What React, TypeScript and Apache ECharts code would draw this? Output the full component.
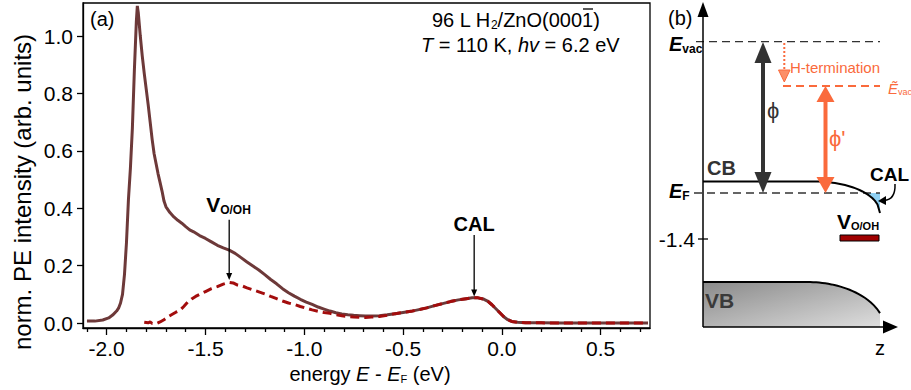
import React, { useEffect, useRef } from "react";
import * as echarts from "echarts";

const FONT = "'Liberation Sans', Arial, Helvetica, sans-serif";

// ---- panel (a) data: solid curve (clean surface) ----
const solidEnergy = [
  -2.1, -2.06, -2.02, -1.99, -1.97, -1.95, -1.94, -1.93, -1.92, -1.91, -1.9, -1.89, -1.88, -1.87, -1.86, -1.85, -1.845,
  -1.84, -1.83, -1.82, -1.81, -1.8, -1.79, -1.78, -1.77, -1.76, -1.75, -1.74, -1.73, -1.72, -1.71, -1.7, -1.68, -1.66,
  -1.64, -1.62, -1.6, -1.58, -1.56, -1.53, -1.5, -1.47, -1.44, -1.41, -1.38, -1.35, -1.32, -1.29, -1.26, -1.23, -1.2,
  -1.17, -1.14, -1.11, -1.08, -1.05, -1.02, -0.99, -0.96, -0.93, -0.9, -0.87, -0.84, -0.81, -0.78, -0.75, -0.72, -0.69,
  -0.66, -0.62, -0.58, -0.54, -0.5, -0.46, -0.42, -0.38, -0.34, -0.3, -0.26, -0.22, -0.18, -0.15, -0.12, -0.09, -0.07,
  -0.05, -0.03, -0.01, 0.01, 0.03, 0.05, 0.08, 0.12, 0.2, 0.3, 0.4, 0.5, 0.6, 0.7, 0.74,
];
const solidIntensity = [
  0.007, 0.007, 0.011, 0.018, 0.028, 0.042, 0.052, 0.07, 0.1, 0.17, 0.28, 0.43, 0.54, 0.68, 0.88, 1.05, 1.105,
  1.08, 1.0, 0.93, 0.87, 0.815, 0.76, 0.7, 0.64, 0.59, 0.555, 0.52, 0.49, 0.46, 0.425, 0.405, 0.385, 0.37,
  0.358, 0.348, 0.336, 0.325, 0.318, 0.305, 0.295, 0.283, 0.271, 0.262, 0.254, 0.243, 0.228, 0.213, 0.199, 0.185, 0.169,
  0.152, 0.137, 0.12, 0.106, 0.094, 0.083, 0.073, 0.065, 0.056, 0.049, 0.042, 0.036, 0.032, 0.029, 0.027, 0.026, 0.025,
  0.025, 0.026, 0.029, 0.033, 0.037, 0.041, 0.047, 0.053, 0.061, 0.068, 0.075, 0.081, 0.085, 0.088, 0.088, 0.083, 0.076,
  0.064, 0.05, 0.036, 0.022, 0.012, 0.006, 0.003, 0.001, 0.001, 0.0, 0.0, 0.0, 0.0, 0.0, 0.0,
];

// ---- panel (a) data: dashed curve (H2 dosed) ----
const dashedEnergy = [
  -1.81, -1.79, -1.78, -1.77, -1.75, -1.73, -1.71, -1.69, -1.67, -1.65, -1.63, -1.61, -1.59, -1.57, -1.55, -1.53, -1.5,
  -1.47, -1.44, -1.41, -1.38, -1.36, -1.34, -1.32, -1.29, -1.26, -1.23, -1.2, -1.17, -1.14, -1.11, -1.08, -1.05, -1.02,
  -0.99, -0.96, -0.93, -0.9, -0.87, -0.84, -0.81, -0.78, -0.75, -0.72, -0.69, -0.66, -0.62, -0.58, -0.54, -0.5, -0.46,
  -0.42, -0.38, -0.34, -0.3, -0.26, -0.22, -0.18, -0.15, -0.12, -0.09, -0.07, -0.05, -0.03, -0.01, 0.01, 0.03, 0.05,
  0.08, 0.12, 0.2, 0.3, 0.4, 0.5, 0.6, 0.7, 0.74,
];
const dashedIntensity = [
  0.003, 0.001, 0.004, -0.001, -0.002, 0.004, 0.012, 0.022, 0.03, 0.038, 0.044, 0.058, 0.073, 0.084, 0.093, 0.1, 0.11,
  0.12, 0.127, 0.136, 0.142, 0.14, 0.133, 0.131, 0.123, 0.116, 0.109, 0.102, 0.093, 0.085, 0.077, 0.07, 0.065, 0.058,
  0.052, 0.046, 0.041, 0.037, 0.034, 0.029, 0.026, 0.023, 0.021, 0.02, 0.02, 0.021, 0.023, 0.027, 0.033, 0.037, 0.041,
  0.047, 0.053, 0.061, 0.068, 0.075, 0.081, 0.085, 0.088, 0.088, 0.083, 0.076, 0.064, 0.05, 0.036, 0.022, 0.012, 0.006,
  0.003, 0.001, 0.001, 0.0, 0.0, 0.0, 0.0, 0.0, 0.0,
];

const xMajorTicks = [-2.0, -1.5, -1.0, -0.5, 0.0, 0.5];
const xMinorTicks = [
  -2.1, -1.9, -1.8, -1.7, -1.6, -1.4, -1.3, -1.2, -1.1, -0.9, -0.8, -0.7, -0.6, -0.4, -0.3, -0.2, -0.1, 0.1, 0.2, 0.3,
  0.4, 0.6, 0.7,
];
const yTicks = [0, 0.2, 0.4, 0.6, 0.8, 1.0];
const X_MIN = -2.12;
const X_MAX = 0.75;
const Y_MIN = -0.017;
const Y_MAX = 1.115;

// annotation anchors (data coords)
const vArrow = { x: -1.38, top: 0.36, tip: 0.15 };
const calArrow = { x: -0.14, top: 0.307, tip: 0.093 };

const SOLID_COLOR = "#6d3939";
const DASH_COLOR = "#a30d0d";
const DARK = "#333333";
const ORANGE = "#fa6a3c";

const zip = (xs: number[], ys: number[]) => xs.map((x, i) => [x, ys[i]]);

function txt(x: number, y: number, text: string, extra: any = {}, el: any = {}) {
  const align = extra.textAlign || "left";
  const va = extra.textVerticalAlign || "middle";
  return {
    type: "text",
    x,
    y,
    z: 50,
    ...el,
    style: {
      text,
      fontFamily: FONT,
      fontSize: 20,
      fill: "#000",
      textAlign: align,
      align,
      textVerticalAlign: va,
      verticalAlign: va,
      ...extra,
    },
  };
}

function ellipseArc(cx: number, cy: number, a: number, b: number, x0: number, x1: number, steps: number) {
  const pts: number[][] = [];
  for (let i = 0; i <= steps; i++) {
    const x = x0 + ((x1 - x0) * i) / steps;
    const u = Math.min(1, (x - cx) / a);
    pts.push([x, cy - b * Math.sqrt(Math.max(0, 1 - u * u))]);
  }
  return pts;
}

function dblArrow(x: number, y1: number, y2: number, color: string, headW: number, headH: number, lw: number) {
  return [
    { type: "line", z: 40, shape: { x1: x, y1: y1 + headH - 1, x2: x, y2: y2 - headH + 1 }, style: { stroke: color, lineWidth: lw } },
    { type: "polygon", z: 40, shape: { points: [[x - headW / 2, y1 + headH], [x + headW / 2, y1 + headH], [x, y1]] }, style: { fill: color } },
    { type: "polygon", z: 40, shape: { points: [[x - headW / 2, y2 - headH], [x + headW / 2, y2 - headH], [x, y2]] }, style: { fill: color } },
  ];
}

const sub = (size: number, pad: number, bold = false, color = "#000") => ({
  fontSize: size,
  fontFamily: FONT,
  fontWeight: bold ? "bold" : "normal",
  padding: [pad, 0, 0, 0],
  fill: color,
  color,
});
const main = (size: number, bold = false, italic = false, color = "#000") => ({
  fontSize: size,
  fontFamily: FONT,
  fontWeight: bold ? "bold" : "normal",
  fontStyle: italic ? "italic" : "normal",
  fill: color,
  color,
});

function panelB(): any[] {
  const els: any[] = [];
  // VB region
  const vbCurve = ellipseArc(807, 330, 78, 48, 807, 880, 24);
  const vbFill = [[703, 282], ...vbCurve, [880, 327], [703, 327]];
  els.push({
    type: "polygon",
    z: 10,
    shape: { points: vbFill },
    style: {
      fill: new echarts.graphic.LinearGradient(0, 0, 1, 1, [
        { offset: 0, color: "#8a8a8a" },
        { offset: 1, color: "#dedede" },
      ]),
    },
  });
  els.push({ type: "polyline", z: 20, shape: { points: [[703, 282], ...vbCurve] }, style: { stroke: "#000", lineWidth: 2, fill: null } });

  // CAL blue region
  const blue = ellipseArc(815, 213, 65, 31.5, 865.2, 880, 10);
  els.push({ type: "polygon", z: 10, shape: { points: [...blue, [880, 193]] }, style: { fill: "#8fd0f3" } });

  // CB line
  const cbCurve = ellipseArc(815, 213, 65, 31.5, 815, 880, 26);
  els.push({ type: "polyline", z: 20, shape: { points: [[703, 181.5], ...cbCurve] }, style: { stroke: "#000", lineWidth: 2, fill: null } });

  // dashed levels
  els.push({ type: "line", z: 15, shape: { x1: 696, y1: 41.7, x2: 880, y2: 41.7 }, style: { stroke: DARK, lineWidth: 1.3, lineDash: [8, 5] } });
  els.push({ type: "line", z: 15, shape: { x1: 694, y1: 193, x2: 880, y2: 193 }, style: { stroke: DARK, lineWidth: 1.3, lineDash: [8, 5] } });
  els.push({ type: "line", z: 15, shape: { x1: 783, y1: 86, x2: 880, y2: 86 }, style: { stroke: ORANGE, lineWidth: 2, lineDash: [8, 5] } });

  // axes
  els.push({ type: "line", z: 30, shape: { x1: 703, y1: 14, x2: 703, y2: 327 }, style: { stroke: "#000", lineWidth: 1.5 } });
  els.push({ type: "polygon", z: 30, shape: { points: [[697.5, 17], [708.5, 17], [703, 2]] }, style: { fill: "#000" } });
  els.push({ type: "line", z: 30, shape: { x1: 703, y1: 327, x2: 886, y2: 327 }, style: { stroke: "#000", lineWidth: 1.5 } });
  els.push({ type: "polygon", z: 30, shape: { points: [[883, 320.5], [883, 333.5], [898, 327]] }, style: { fill: "#000" } });
  els.push({ type: "line", z: 30, shape: { x1: 698, y1: 239, x2: 708, y2: 239 }, style: { stroke: "#000", lineWidth: 1.3 } });

  // arrows
  els.push(...dblArrow(763, 42, 193, DARK, 17, 21, 4));
  els.push(...dblArrow(825.5, 86, 193, ORANGE, 18, 16, 4));
  els.push({ type: "line", z: 40, shape: { x1: 784.3, y1: 43, x2: 784.3, y2: 71 }, style: { stroke: ORANGE, lineWidth: 2, lineDash: [2, 2] } });
  els.push({ type: "polygon", z: 40, shape: { points: [[778.5, 70], [790, 70], [784.3, 82]] }, style: { fill: "#fc8f68", stroke: ORANGE, lineWidth: 1 } });

  // CAL arrow (curved)
  els.push({ type: "bezierCurve", z: 40, shape: { x1: 895, y1: 184, cpx1: 895.5, cpy1: 196, cpx2: 891, cpy2: 200, x2: 884, y2: 200.5 }, style: { stroke: "#000", lineWidth: 1.5, fill: null } });
  els.push({ type: "polygon", z: 40, shape: { points: [[886, 196], [886, 205], [878, 201]] }, style: { fill: "#000" } });

  // V_O/OH level bar
  els.push({ type: "rect", z: 40, shape: { x: 840, y: 235, width: 39, height: 6 }, style: { fill: "#a00000", stroke: "#000", lineWidth: 1 } });

  // texts
  els.push(txt(668, 18, "(b)"));
  els.push(txt(669, 44, "{e|E}{s|vac}", { rich: { e: main(20, true, true), s: sub(12, 10, true) } }));
  els.push(txt(669, 191, "{e|E}{s|F}", { rich: { e: main(20, true, true), s: sub(12, 10, true) } }));
  els.push(txt(695, 239, "-1.4", { textAlign: "right", fontSize: 21 }));
  els.push(txt(707, 168, "CB", { fontWeight: "bold", fill: DARK }));
  els.push(txt(705, 300, "VB", { fontWeight: "bold", fill: "#3a3a3a", fontSize: 21 }));
  els.push(txt(870, 174, "CAL", { fontWeight: "bold", fontSize: 19 }));
  els.push(txt(837, 221, "{v|V}{s|O/OH}", { rich: { v: main(21, true), s: sub(11, 10, true) } }));
  els.push(txt(880, 348, "z", { textAlign: "center" }));
  els.push(txt(767, 110, "ϕ", { fill: DARK, fontSize: 22 }));
  els.push(txt(829, 138, "ϕ'", { fill: ORANGE, fontSize: 22 }));
  els.push(txt(790, 67, "H-termination", { fontSize: 15, fill: ORANGE }));
  els.push(txt(888, 88, "{e|Ẽ}{s|vac}", { rich: { e: main(15, false, true, ORANGE), s: sub(9, 8, false, ORANGE) } }));
  return els;
}

export default function App() {
  const ref = useRef<HTMLDivElement>(null);
  useEffect(() => {
    if (!ref.current) return;
    const chart = echarts.init(ref.current, null, { renderer: "svg" });
    const axisLine = { color: "#000", width: 1.3 };
    chart.setOption({
      animation: false,
      backgroundColor: "#fff",
      textStyle: { fontFamily: FONT },
      grid: { left: 83, top: 3, width: 567, height: 325, show: true, borderColor: "#000", borderWidth: 1.3 },
      xAxis: [
        {
          type: "value",
          min: X_MIN,
          max: X_MAX,
          position: "bottom",
          axisLine: { show: true, onZero: false, lineStyle: axisLine },
          axisTick: { show: true, customValues: xMajorTicks, length: 7, lineStyle: axisLine },
          axisLabel: {
            show: true,
            customValues: xMajorTicks,
            formatter: (v: number) => v.toFixed(1),
            fontSize: 21,
            color: "#000",
            margin: 10,
            fontFamily: FONT,
          },
          splitLine: { show: false },
        },
        {
          type: "value",
          min: X_MIN,
          max: X_MAX,
          position: "bottom",
          axisLine: { show: false, onZero: false },
          axisTick: { show: true, customValues: xMinorTicks, length: 4, lineStyle: axisLine },
          axisLabel: { show: false },
          splitLine: { show: false },
        },
      ],
      yAxis: {
        type: "value",
        min: Y_MIN,
        max: Y_MAX,
        axisLine: { show: true, onZero: false, lineStyle: axisLine },
        axisTick: { show: true, customValues: yTicks, length: 6, lineStyle: axisLine },
        axisLabel: {
          show: true,
          customValues: yTicks,
          formatter: (v: number) => v.toFixed(1),
          fontSize: 21,
          color: "#000",
          margin: 10,
          fontFamily: FONT,
        },
        splitLine: { show: false },
      },
      series: [
        {
          type: "line",
          xAxisIndex: 0,
          data: zip(solidEnergy, solidIntensity),
          symbol: "none",
          lineStyle: { color: SOLID_COLOR, width: 3 },
          z: 2,
        },
        {
          type: "line",
          xAxisIndex: 0,
          data: zip(dashedEnergy, dashedIntensity),
          symbol: "none",
          lineStyle: { color: DASH_COLOR, width: 3, type: [9, 5] },
          z: 3,
        },
      ],
    });

    const px = (x: number, y: number) => chart.convertToPixel({ gridIndex: 0 }, [x, y]) as number[];
    const vTop = px(vArrow.x, vArrow.top);
    const vTip = px(vArrow.x, vArrow.tip);
    const cTop = px(calArrow.x, calArrow.top);
    const cTip = px(calArrow.x, calArrow.tip);

    const graphics: any[] = [
      txt(22, 192, "norm. PE intensity (arb. units)", { textAlign: "center", fontSize: 24 }, { rotation: Math.PI / 2 }),
      txt(370, 374, "energy {i|E} - {i|E}{s|F} (eV)", {
        textAlign: "center",
        rich: { i: main(20, false, true), s: sub(11, 10) },
      }),
      txt(90, 19, "(a)"),
      txt(432, 20, "96 L H{s|2}/ZnO(0001)", { rich: { s: sub(12, 10) } }),
      txt(421, 45, "{i|T} = 110 K, {i|hv} = 6.2 eV", { rich: { i: main(20, false, true) } }),
      { type: "line", z: 50, shape: { x1: 583, y1: 9, x2: 593, y2: 9 }, style: { stroke: "#000", lineWidth: 1.3 } },
      // V_O/OH annotation
      { type: "line", z: 50, shape: { x1: vTop[0], y1: vTop[1], x2: vTip[0], y2: vTip[1] - 6 }, style: { stroke: "#000", lineWidth: 1.3 } },
      { type: "polygon", z: 50, shape: { points: [[vTip[0] - 3, vTip[1] - 7], [vTip[0] + 3, vTip[1] - 7], [vTip[0], vTip[1]]] }, style: { fill: "#000" } },
      txt(vTop[0] - 23, vTop[1] - 15, "{v|V}{s|O/OH}", { rich: { v: main(21, true), s: sub(12, 10, true) } }),
      // CAL annotation
      { type: "line", z: 50, shape: { x1: cTop[0], y1: cTop[1], x2: cTip[0], y2: cTip[1] - 6 }, style: { stroke: "#000", lineWidth: 1.3 } },
      { type: "polygon", z: 50, shape: { points: [[cTip[0] - 3, cTip[1] - 7], [cTip[0] + 3, cTip[1] - 7], [cTip[0], cTip[1]]] }, style: { fill: "#000" } },
      txt(cTop[0], cTop[1] - 11, "CAL", { textAlign: "center", fontWeight: "bold" }),
      ...panelB(),
    ];
    chart.setOption({ graphic: graphics });
    return () => chart.dispose();
  }, []);
  return <div ref={ref} style={{ position: "fixed", left: 0, top: 0, width: 911, height: 390, background: "#fff" }} />;
}
